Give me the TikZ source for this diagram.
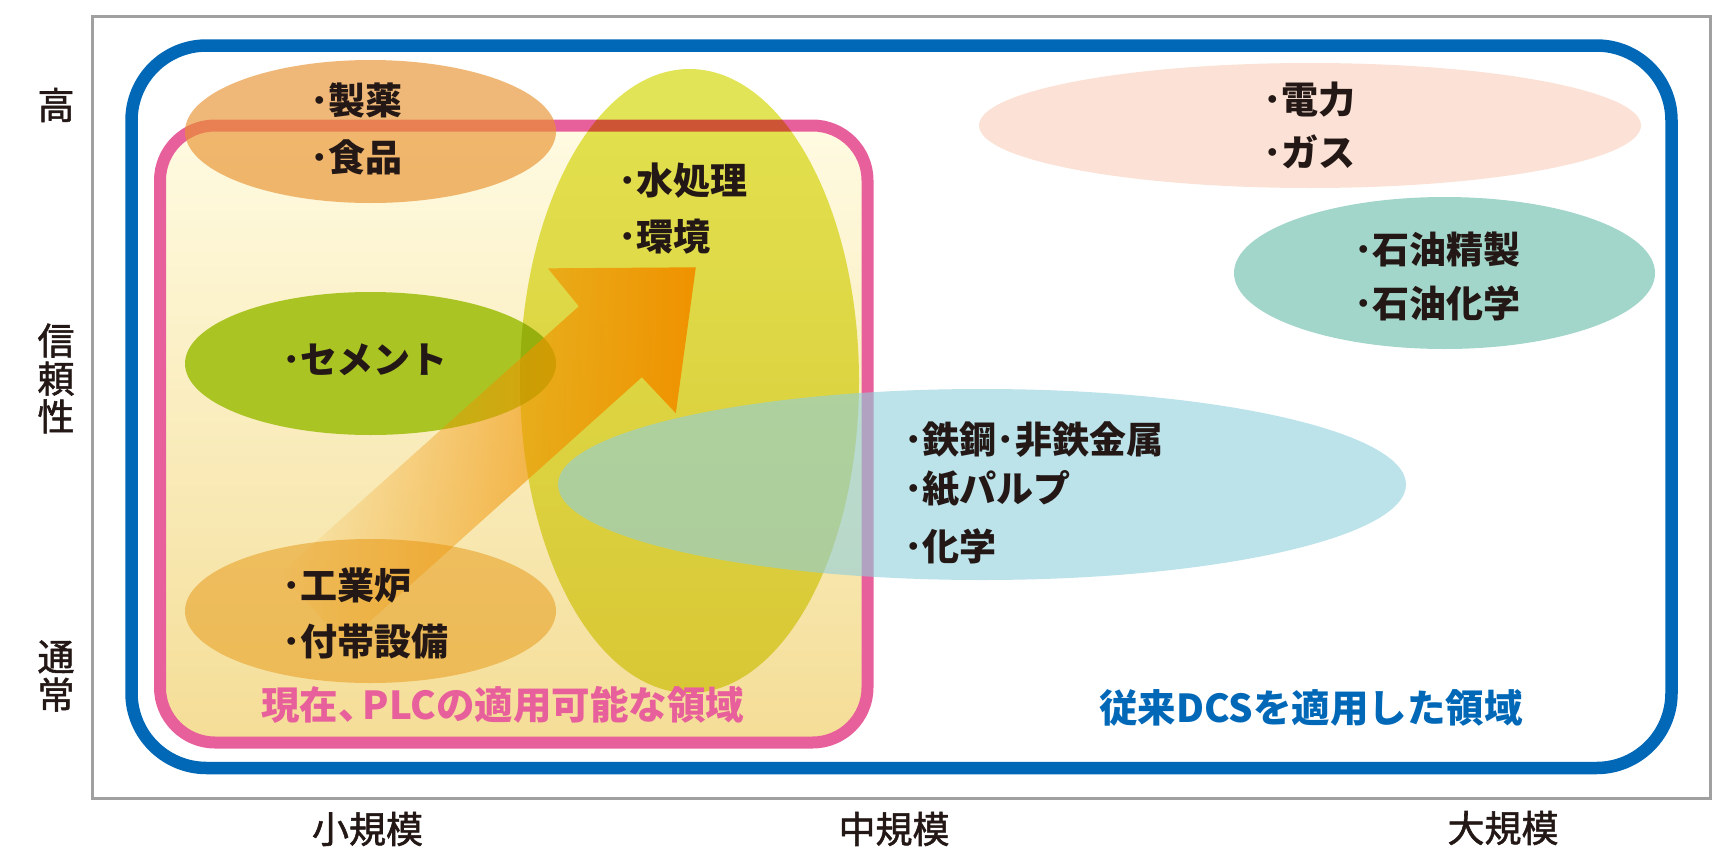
\documentclass[tikz,border=0pt]{standalone}
\usepackage{fontspec}
\setmainfont{Noto Sans CJK JP}
\newfontfamily\axisfont{Noto Sans CJK JP}[FakeBold=1.5]
\usetikzlibrary{fadings}
\definecolor{framegray}{RGB}{160,160,160}
\definecolor{dcsblue}{RGB}{0,104,183}
\definecolor{plcpink}{RGB}{232,96,155}
\definecolor{creamtop}{RGB}{255,251,226}
\definecolor{creambot}{RGB}{244,221,150}
\definecolor{pharmaor}{RGB}{232,146,47}
\definecolor{furnaceor}{RGB}{232,162,40}
\definecolor{cementgr}{RGB}{166,194,28}
\definecolor{wateryl}{RGB}{226,228,88}
\definecolor{steelbl}{RGB}{143,207,220}
\definecolor{powerpk}{RGB}{252,226,214}
\definecolor{petrogr}{RGB}{163,214,202}
\definecolor{arrowor}{RGB}{240,146,0}
\definecolor{ink}{RGB}{35,24,21}
\tikzfading[name=arrowfade, left color=transparent!100, right color=transparent!0]
\begin{document}
\begin{tikzpicture}
    [
    x=1pt,y=-1pt,
    item/.style={anchor=west,inner sep=0pt,text=ink,font=\fontsize{37}{37}\selectfont\bfseries},
    axislabel/.style={inner sep=0pt,text=ink,align=center,font=\fontsize{37}{38}\selectfont\axisfont},
    caption/.style={anchor=west,inner sep=0pt,font=\fontsize{38.5}{38.5}\selectfont\bfseries}
    ]
    \useasboundingbox (0,0) rectangle (1727,854);
    \draw [framegray, line width=3] (92,16) rectangle (1710,798);
    \draw [dcsblue, line width=12.5, rounded corners=75] (131.5,45.5) rectangle (1671.5,768);
    \draw [plcpink, line width=12, rounded corners=55, top color=creamtop, bottom color=creambot] (160,125.5) rectangle (867.5,742.5);
    \fill [powerpk] (1310,125.5) ellipse [x radius=331, y radius=62.5];
    \fill [petrogr] (1444.5,273) ellipse [x radius=210.5, y radius=76];
    \fill [pharmaor, opacity=0.65] (370.5,131.5) ellipse [x radius=185.5, y radius=71.5];
    \fill [cementgr, opacity=0.95] (370.5,363.5) ellipse [x radius=185.5, y radius=71.5];
    \fill [furnaceor, opacity=0.6] (370.5,611) ellipse [x radius=185.5, y radius=72];
    \begin{scope}[blend mode=multiply]
      \fill [wateryl] (689.5,381) ellipse [x radius=169.5, y radius=312];
    \end{scope}
    \fill [arrowor, path fading=arrowfade] (281,573) -- (579,306) -- (548,268) -- (696,267) -- (676,413) -- (642,377) -- (344.5,644) -- cycle;
    \fill [steelbl, opacity=0.6] (982,484.5) ellipse [x radius=424, y radius=95.5];
    \node (pharma1) at (310,100) [item] {･製薬};
    \node (pharma2) at (310,157) [item] {･食品};
    \node (water1) at (618,181) [item] {･水処理};
    \node (water2) at (618,237) [item] {･環境};
    \node (cement) at (282,360) [item] {･セメント};
    \node (furnace1) at (282,585) [item] {･工業炉};
    \node (furnace2) at (282,642) [item] {･付帯設備};
    \node (power1) at (1263,99.5) [item] {･電力};
    \node (power2) at (1263,152) [item] {･ガス};
    \node (petro1) at (1354,249) [item] {･石油精製};
    \node (petro2) at (1354,303.5) [item] {･石油化学};
    \node (steel1) at (904,439.5) [item] {･鉄鋼･非鉄金属};
    \node (steel2) at (904,489) [item] {･紙パルプ};
    \node (steel3) at (904,546) [item] {･化学};
    \node (plcarea) at (261,704.5) [caption, text=plcpink] {現在、\kern-14pt PLCの適用可能な領域};
    \node (dcsarea) at (1099,708) [caption, text=dcsblue] {従来DCSを適用した領域};
    \node (high) at (56,105) [axislabel] {高};
    \node (reliab) at (56,378.5) [axislabel] {信\\頼\\性};
    \node (normal) at (56,676) [axislabel] {通\\常};
    \node (small) at (367.5,829) [axislabel] {小規模};
    \node (medium) at (894,829) [axislabel] {中規模};
    \node (large) at (1503,828) [axislabel] {大規模};
  \end{tikzpicture}
\end{document}
